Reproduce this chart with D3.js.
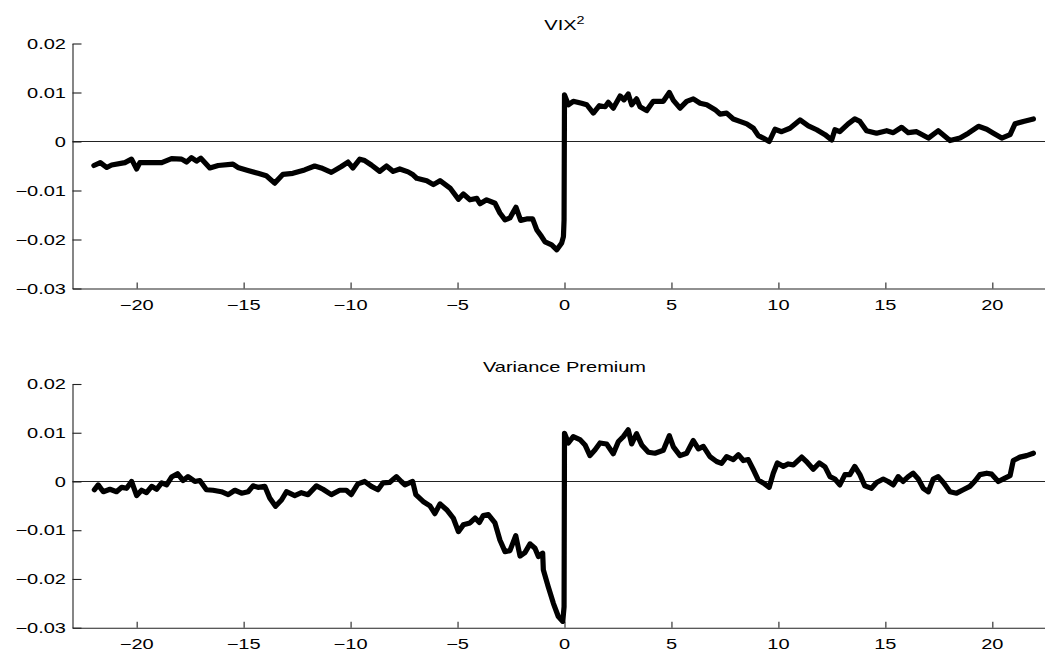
<!DOCTYPE html>
<html>
<head>
<meta charset="utf-8">
<script src="https://cdn.jsdelivr.net/npm/d3@7"></script>
<style>
  html, body { margin: 0; padding: 0; background: #fff; overflow: hidden; }
  svg { display: block; }
  text { font-family: "Liberation Sans", Arial, Helvetica, sans-serif; fill: #000; }
</style>
</head>
<body>
<svg id="chart" width="1045" height="651"></svg>
<script>
// ---------------- DATA ----------------
const xTicks = [-20, -15, -10, -5, 0, 5, 10, 15, 20];
const yTicks = [0.02, 0.01, 0, -0.01, -0.02, -0.03];
const yTickLabels = ["0.02", "0.01", "0", "\u22120.01", "\u22120.02", "\u22120.03"];
const xTickLabels = ["\u221220", "\u221215", "\u221210", "\u22125", "0", "5", "10", "15", "20"];
const panelTitles = ["VIX", "Variance Premium"];

const vixDays = [-22.0,-21.7,-21.4,-21.17,-20.55,-20.24,-20.0,-19.85,-19.3,-18.83,-18.37,-17.9,-17.67,-17.44,-17.2,-17.0,-16.58,-16.19,-15.5,-15.27,-14.8,-14.33,-13.94,-13.55,-13.16,-12.7,-12.15,-11.68,-11.37,-10.9,-10.43,-10.12,-9.89,-9.57,-9.34,-9.03,-8.64,-8.32,-8.01,-7.7,-7.31,-7.08,-6.91,-6.44,-6.13,-5.82,-5.35,-4.96,-4.73,-4.42,-4.1,-3.95,-3.64,-3.25,-3.02,-2.78,-2.55,-2.27,-2.05,-1.77,-1.49,-1.3,-1.07,-0.91,-0.6,-0.36,-0.13,-0.05,-0.02,0.0,0.18,0.41,0.8,1.04,1.35,1.63,1.9,2.05,2.28,2.6,2.78,2.98,3.14,3.37,3.53,3.84,4.15,4.62,4.9,5.09,5.4,5.71,6.02,6.34,6.65,7.04,7.27,7.58,7.89,8.2,8.52,8.83,9.06,9.29,9.57,9.84,10.15,10.54,11.01,11.4,11.79,12.18,12.49,12.64,12.87,13.26,13.57,13.81,14.12,14.59,15.06,15.37,15.76,16.07,16.46,17.01,17.47,18.02,18.49,18.88,19.35,19.74,20.05,20.44,20.83,21.06,21.45,21.92];
const vixValues = [-0.0049,-0.0043,-0.0053,-0.0048,-0.0043,-0.0036,-0.0056,-0.0043,-0.0043,-0.0043,-0.0035,-0.0036,-0.0042,-0.0033,-0.004,-0.0034,-0.0054,-0.0049,-0.0046,-0.0053,-0.0059,-0.0065,-0.007,-0.0085,-0.0067,-0.0065,-0.0058,-0.005,-0.0054,-0.0063,-0.0051,-0.0042,-0.0054,-0.0036,-0.0039,-0.0048,-0.0061,-0.005,-0.0061,-0.0056,-0.0062,-0.0068,-0.0075,-0.008,-0.0088,-0.008,-0.0095,-0.0118,-0.0107,-0.0119,-0.0116,-0.0127,-0.0119,-0.0126,-0.0146,-0.016,-0.0156,-0.0134,-0.0161,-0.0158,-0.0158,-0.018,-0.0194,-0.0205,-0.0211,-0.0221,-0.0207,-0.0194,-0.016,0.0095,0.0075,0.0082,0.0078,0.0075,0.0058,0.0073,0.0071,0.008,0.0068,0.0093,0.0085,0.0097,0.0075,0.0087,0.0071,0.0063,0.0082,0.0082,0.01,0.0084,0.0068,0.0082,0.0087,0.0078,0.0075,0.0065,0.0056,0.0058,0.0046,0.0041,0.0036,0.0027,0.0012,0.0007,0.0,0.0025,0.002,0.0027,0.0044,0.0032,0.0024,0.0014,0.0003,0.0024,0.002,0.0036,0.0046,0.0041,0.0022,0.0017,0.0022,0.0018,0.0029,0.0018,0.002,0.0007,0.0022,0.0002,0.0007,0.0017,0.0031,0.0025,0.0017,0.0007,0.0014,0.0036,0.0041,0.0046];

const vpDays = [-21.98,-21.8,-21.56,-21.25,-20.94,-20.7,-20.47,-20.24,-20.0,-19.77,-19.54,-19.3,-19.07,-18.83,-18.6,-18.37,-18.09,-17.83,-17.6,-17.28,-17.05,-16.74,-16.43,-16.04,-15.72,-15.41,-15.1,-14.79,-14.56,-14.33,-14.01,-13.78,-13.51,-13.23,-13.0,-12.61,-12.3,-11.99,-11.6,-11.29,-10.9,-10.51,-10.2,-9.97,-9.66,-9.34,-9.03,-8.72,-8.49,-8.18,-7.86,-7.63,-7.46,-7.1,-6.95,-6.61,-6.29,-6.06,-5.82,-5.51,-5.2,-4.96,-4.73,-4.42,-4.18,-3.98,-3.8,-3.56,-3.25,-3.02,-2.78,-2.55,-2.28,-2.08,-1.85,-1.61,-1.38,-1.22,-1.02,-0.99,-0.76,-0.52,-0.29,-0.08,-0.02,0.0,0.18,0.41,0.72,0.96,1.19,1.43,1.66,1.97,2.28,2.52,2.75,2.98,3.14,3.37,3.61,3.92,4.23,4.62,4.9,5.09,5.4,5.71,6.02,6.26,6.49,6.8,7.11,7.34,7.58,7.89,8.13,8.36,8.59,8.83,9.06,9.29,9.57,9.76,9.95,10.23,10.46,10.7,11.09,11.35,11.63,11.91,12.18,12.41,12.64,12.87,13.11,13.34,13.57,13.81,14.04,14.35,14.59,14.9,15.13,15.37,15.6,15.83,16.07,16.3,16.54,16.77,17.01,17.24,17.47,17.71,18.02,18.33,18.64,18.95,19.19,19.42,19.74,19.97,20.28,20.59,20.83,20.98,21.29,21.6,21.92];
const vpValues = [-0.0017,-0.0007,-0.0021,-0.0016,-0.0021,-0.0012,-0.0014,0.0,-0.0029,-0.0018,-0.0023,-0.001,-0.0016,-0.0003,-0.0007,0.0009,0.0016,0.0002,0.001,0.0,0.0002,-0.0017,-0.0018,-0.0021,-0.0027,-0.0018,-0.0024,-0.0021,-0.0009,-0.0012,-0.001,-0.0034,-0.0051,-0.0038,-0.0021,-0.0029,-0.0023,-0.0027,-0.0009,-0.0016,-0.0027,-0.0018,-0.0018,-0.0027,-0.0005,0.0,-0.001,-0.0017,-0.0003,-0.0002,0.001,0.0,-0.0007,0.0,-0.0027,-0.0041,-0.005,-0.0066,-0.0046,-0.0058,-0.0075,-0.0103,-0.0089,-0.0085,-0.0075,-0.0084,-0.007,-0.0068,-0.0085,-0.012,-0.0144,-0.0142,-0.0111,-0.0153,-0.0146,-0.0128,-0.0137,-0.0154,-0.0147,-0.0181,-0.0216,-0.025,-0.0277,-0.0287,-0.0257,0.0099,0.0079,0.0092,0.0086,0.0075,0.0053,0.0065,0.0079,0.0077,0.0057,0.0082,0.0092,0.0106,0.0077,0.0098,0.0075,0.006,0.0058,0.0064,0.0094,0.0071,0.0053,0.0058,0.0084,0.0067,0.0072,0.0051,0.0041,0.0037,0.0051,0.0045,0.0055,0.0043,0.0045,0.0024,0.0003,-0.0003,-0.0012,0.0017,0.0038,0.0031,0.0036,0.0034,0.005,0.0039,0.0025,0.0038,0.003,0.001,0.0005,-0.0007,0.0014,0.0014,0.0031,0.0014,-0.0009,-0.0014,-0.0002,0.0005,0.0,-0.0007,0.001,0.0,0.001,0.0017,0.0005,-0.0014,-0.0021,0.0005,0.001,-0.0002,-0.0021,-0.0024,-0.0017,-0.001,0.0001,0.0014,0.0017,0.0015,0.0,0.0007,0.0012,0.0043,0.005,0.0053,0.0058];

// ---------------- LAYOUT ----------------
const svg = d3.select("#chart");
const FONT = 14.5, SX = 1.38;

const x = d3.scaleLinear().domain([-23, 23]).range([72.5, 1056.5]);

const panels = [
  { days: vixDays, values: vixValues, top: 43.5, bottom: 288.5, title: panelTitles[0], sup: "2", titleY: 30 },
  { days: vpDays, values: vpValues, top: 384, bottom: 627.7, title: panelTitles[1], sup: null, titleY: 371.5 }
];

function stretchedText(parent, px, py, str, anchor) {
  const g = parent.append("g").attr("transform", `translate(${px},${py}) scale(${SX},1)`);
  return g.append("text").attr("x", 0).attr("y", 0)
    .attr("text-anchor", anchor).attr("font-size", FONT).text(str);
}

panels.forEach(p => {
  const y = d3.scaleLinear().domain([-0.03, 0.02]).range([p.bottom, p.top]);
  const g = svg.append("g");

  // zero line
  g.append("line")
    .attr("x1", x.range()[0]).attr("x2", x.range()[1])
    .attr("y1", y(0)).attr("y2", y(0))
    .attr("stroke", "#222").attr("stroke-width", 1.1);

  // y axis
  const yAxis = d3.axisLeft(y).tickValues(yTicks).tickSizeInner(-9).tickSizeOuter(0).tickFormat("");
  const ya = g.append("g").attr("transform", `translate(${x.range()[0]},0)`).call(yAxis);
  ya.select(".domain").attr("stroke", "#222").attr("stroke-width", 1.1);
  ya.selectAll(".tick line").attr("stroke", "#222").attr("stroke-width", 1.1);

  // x axis
  const xAxis = d3.axisBottom(x).tickValues(xTicks).tickSizeInner(-6).tickSizeOuter(0).tickFormat("");
  const xa = g.append("g").attr("transform", `translate(0,${p.bottom})`).call(xAxis);
  xa.select(".domain").attr("stroke", "#222").attr("stroke-width", 1.1);
  xa.selectAll(".tick line").attr("stroke", "#222").attr("stroke-width", 1.1);

  // y tick labels
  yTicks.forEach((v, i) => {
    stretchedText(g, 66, y(v) + FONT * 0.36, yTickLabels[i], "end");
  });
  // x tick labels
  xTicks.forEach((v, i) => {
    stretchedText(g, x(v), p.bottom + 21, xTickLabels[i], "middle");
  });

  // title
  const tg = g.append("g").attr("transform", `translate(${x(0)},${p.titleY}) scale(${SX},1)`);
  const tt = tg.append("text").attr("text-anchor", "middle").attr("font-size", FONT);
  tt.append("tspan").text(p.title);
  if (p.sup) {
    tt.append("tspan").attr("dy", -6).attr("font-size", FONT * 0.72).text(p.sup);
  }

  // data line
  const pts = p.days.map((d, i) => [d, p.values[i]]);
  const line = d3.line().x(d => x(d[0])).y(d => y(d[1])).curve(d3.curveLinear);
  g.append("path").datum(pts)
    .attr("d", line)
    .attr("fill", "none")
    .attr("stroke", "#000")
    .attr("stroke-width", 5.2)
    .attr("stroke-linejoin", "round")
    .attr("stroke-linecap", "round");
});
</script>
</body>
</html>
